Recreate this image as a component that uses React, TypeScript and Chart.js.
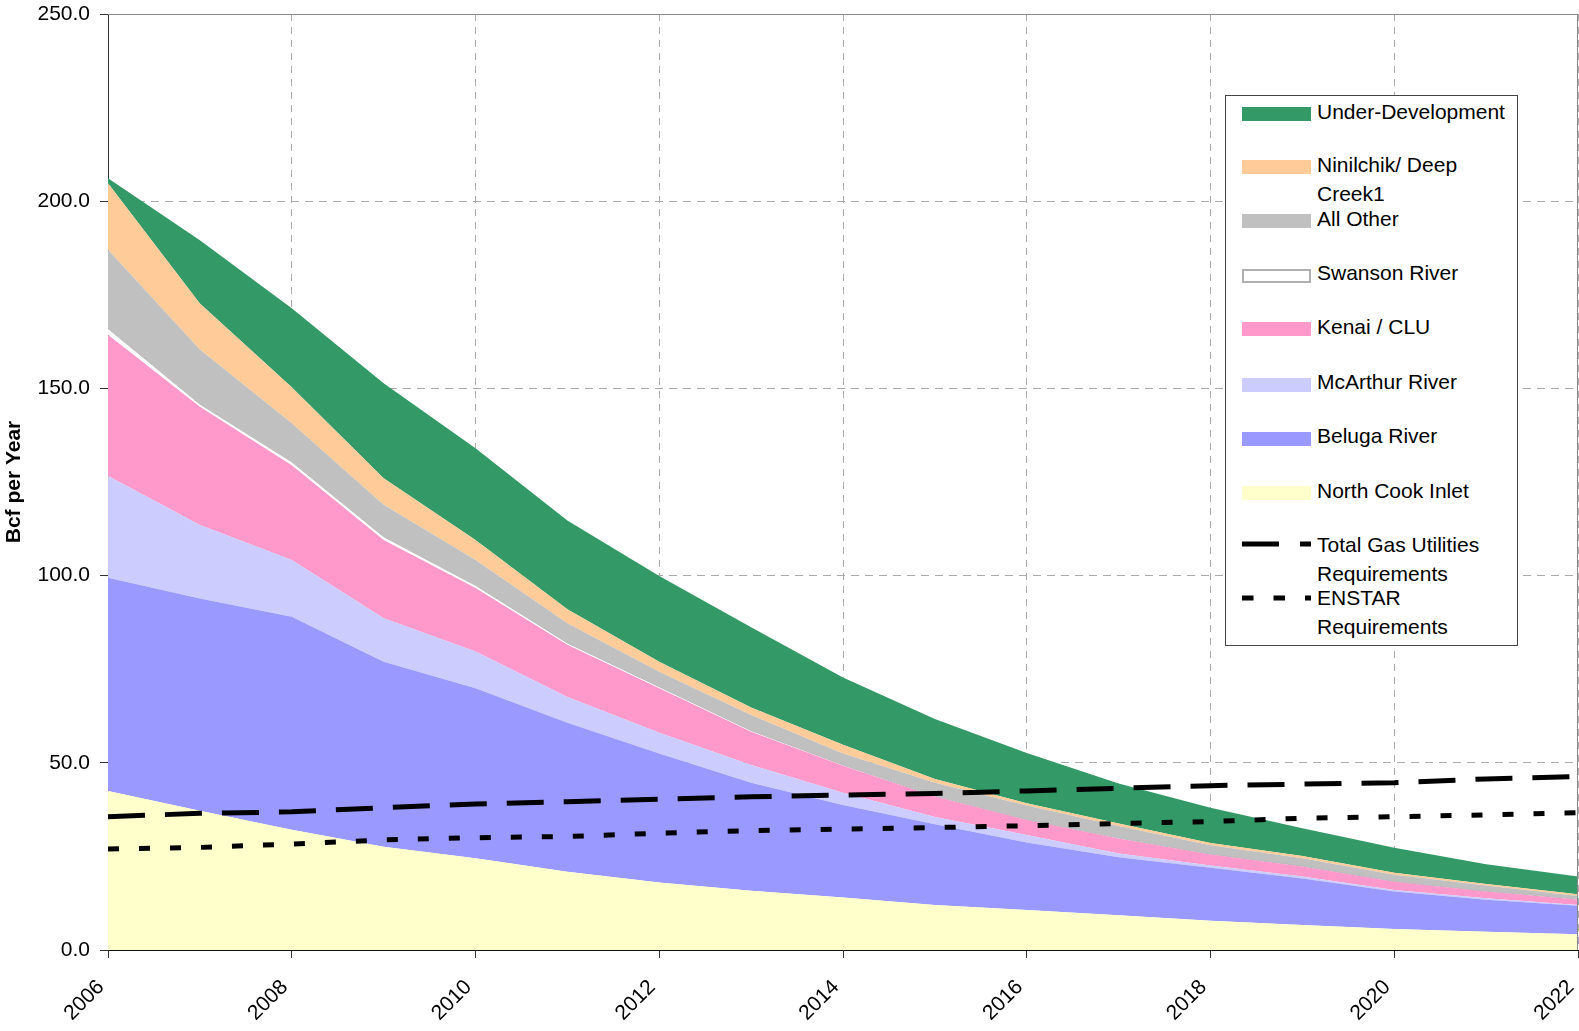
import React, { useEffect, useRef } from 'react';
import { Chart, registerables } from 'chart.js';

Chart.register(...registerables);

// ---- Data (Bcf per year) ----
const years = [2006, 2007, 2008, 2009, 2010, 2011, 2012, 2013, 2014, 2015, 2016, 2017, 2018, 2019, 2020, 2021, 2022];

const northCookInlet = [42.5, 37.2, 32.1, 27.6, 24.5, 20.9, 18.0, 15.8, 14.0, 12.0, 10.7, 9.3, 7.8, 6.7, 5.6, 4.9, 4.2];
const belugaRiver = [56.9, 56.7, 56.9, 49.4, 45.4, 39.8, 34.5, 28.9, 24.7, 21.6, 18.0, 15.5, 14.2, 12.4, 10.0, 8.5, 7.6];
const mcArthurRiver = [27.2, 19.6, 15.2, 11.6, 9.8, 6.9, 5.5, 4.7, 3.3, 1.9, 2.0, 1.0, 0.6, 0.5, 0.4, 0.4, 0.2];
const kenaiClu = [37.7, 31.6, 25.3, 20.9, 17.0, 13.9, 11.9, 8.9, 7.2, 5.5, 4.0, 4.0, 2.9, 2.7, 2.2, 1.8, 1.5];
const swansonRiver = [1.7, 0.7, 0.9, 0.9, 0.7, 0.5, 0.4, 0.3, 0.2, 0.1, 0.1, 0.1, 0.1, 0.1, 0.1, 0.1, 0.1];
const allOther = [21.0, 14.6, 10.3, 8.5, 6.8, 5.3, 4.0, 4.2, 3.1, 3.6, 3.8, 3.2, 2.4, 2.1, 1.8, 1.5, 0.8];
const ninilchikDeepCreek = [17.8, 12.3, 9.6, 7.1, 5.3, 3.7, 2.7, 2.0, 2.3, 1.0, 0.6, 0.7, 0.6, 0.6, 0.5, 0.4, 0.5];
const underDevelopment = [1.3, 16.9, 21.1, 25.4, 24.5, 23.7, 22.9, 21.4, 18.0, 16.0, 13.4, 10.7, 9.4, 7.4, 6.7, 5.3, 4.7];

const totalGasUtilities = [35.6, 36.5, 36.9, 38.0, 39.0, 39.6, 40.3, 40.9, 41.4, 41.8, 42.5, 43.2, 43.9, 44.3, 44.7, 45.7, 46.3];
const enstarRequirements = [27.0, 27.4, 28.3, 29.4, 30.0, 30.3, 31.2, 31.9, 32.3, 32.7, 33.2, 33.8, 34.3, 35.2, 35.6, 36.1, 36.7];

const yTicks = [0, 50, 100, 150, 200, 250];

const FONT = '"Liberation Sans", Arial, Helvetica, sans-serif';

type LegendItem = { label: string[]; color?: string; border?: string; dash?: string };

const legendItems: LegendItem[] = [
  { label: ['Under-Development'], color: '#339966' },
  { label: ['Ninilchik/ Deep', 'Creek1'], color: '#FFCC99' },
  { label: ['All Other'], color: '#C0C0C0' },
  { label: ['Swanson River'], color: '#FFFFFF', border: '#B0B0B0' },
  { label: ['Kenai / CLU'], color: '#FF99CC' },
  { label: ['McArthur River'], color: '#CCCCFF' },
  { label: ['Beluga River'], color: '#9999FF' },
  { label: ['North Cook Inlet'], color: '#FFFFCC' },
  { label: ['Total Gas Utilities', 'Requirements'], dash: '37 21' },
  { label: ['ENSTAR', 'Requirements'], dash: '11.5 20' },
];
const legendCenters = [15.4, 68, 122, 176.9, 230.2, 285.7, 339.8, 394.3, 448, 501.7];

export default function App() {
  const canvasRef = useRef<HTMLCanvasElement>(null);

  useEffect(() => {
    document.body.style.margin = '0';
    const canvas = canvasRef.current;
    if (!canvas) return;

    const pts = (arr: number[]) => years.map((yr, i) => ({ x: yr, y: arr[i] }));
    const area = (label: string, data: number[], color: string, first = false, borderColor?: string) => ({
      label,
      data: pts(data),
      backgroundColor: color,
      borderColor: borderColor || color,
      borderWidth: borderColor ? 1 : 0,
      pointRadius: 0,
      fill: first ? 'origin' : '-1',
      stack: 'supply',
      order: 2,
      tension: 0,
    });
    const line = (label: string, data: number[], dash: number[], stack: string) => ({
      label,
      data: pts(data),
      borderColor: '#000000',
      backgroundColor: '#000000',
      borderWidth: 5,
      borderDash: dash,
      borderCapStyle: 'butt',
      pointRadius: 0,
      fill: false,
      stack,
      order: 0,
      tension: 0,
    });

    const borderPlugin = {
      id: 'plotBorder',
      afterDraw(chart: any) {
        const { ctx, chartArea } = chart;
        ctx.save();
        ctx.strokeStyle = '#888888';
        ctx.lineWidth = 1;
        ctx.beginPath();
        ctx.moveTo(chartArea.left, chartArea.top + 0.5);
        ctx.lineTo(chartArea.right, chartArea.top + 0.5);
        ctx.moveTo(chartArea.right - 0.5, chartArea.top);
        ctx.lineTo(chartArea.right - 0.5, chartArea.bottom);
        ctx.stroke();
        ctx.restore();
      },
    };

    const chart = new Chart(canvas, {
      type: 'line',
      data: {
        datasets: [
          area('North Cook Inlet', northCookInlet, '#FFFFCC', true),
          area('Beluga River', belugaRiver, '#9999FF'),
          area('McArthur River', mcArthurRiver, '#CCCCFF'),
          area('Kenai / CLU', kenaiClu, '#FF99CC'),
          area('Swanson River', swansonRiver, '#FFFFFF', false, '#B8B8B8'),
          area('All Other', allOther, '#C0C0C0'),
          area('Ninilchik/ Deep Creek1', ninilchikDeepCreek, '#FFCC99'),
          area('Under-Development', underDevelopment, '#339966'),
          line('Total Gas Utilities Requirements', totalGasUtilities, [37, 20], 'req1'),
          line('ENSTAR Requirements', enstarRequirements, [11, 20], 'req2'),
        ] as any,
      },
      options: {
        responsive: false,
        animation: false,
        events: [],
        layout: { padding: { top: 14, right: 1, left: 0, bottom: 0 } },
        plugins: {
          legend: { display: false },
          tooltip: { enabled: false },
        },
        scales: {
          x: {
            type: 'linear',
            min: 2006,
            max: 2022,
            afterFit: (s: any) => {
              s.height = 81;
              s.paddingLeft = 0;
              s.paddingRight = 0;
            },
            ticks: {
              stepSize: 2,
              minRotation: 45,
              maxRotation: 45,
              padding: 17,
              labelOffset: -7,
              color: '#000000',
              font: { family: FONT, size: 21 },
              callback: (v: any) => String(v),
            },
            grid: {
              color: '#ABABAB',
              lineWidth: 1,
              tickColor: '#333333',
              tickLength: 8,
            },
            border: { display: true, color: '#111111', width: 1, dash: [7, 6] },
          },
          y: {
            stacked: true,
            min: 0,
            max: 250,
            afterFit: (s: any) => {
              s.width = 108;
              s.paddingTop = 0;
              s.paddingBottom = 0;
            },
            afterBuildTicks: (s: any) => {
              s.ticks = yTicks.map((v) => ({ value: v }));
            },
            ticks: {
              padding: 10,
              color: '#000000',
              font: { family: FONT, size: 21 },
              callback: (v: any) => Number(v).toFixed(1),
            },
            grid: {
              color: '#ABABAB',
              lineWidth: 1,
              tickColor: '#333333',
              tickLength: 8,
            },
            border: { display: true, color: '#333333', width: 1, dash: [8, 6] },
            title: {
              display: true,
              text: 'Bcf per Year',
              color: '#000000',
              font: { family: FONT, size: 21, weight: 'bold' },
              padding: { top: 2, bottom: 0 },
            },
          },
        },
      } as any,
      plugins: [borderPlugin],
    });

    return () => chart.destroy();
  }, []);

  return (
    <div style={{ position: 'fixed', left: 0, top: 0, width: 1579, height: 1031, background: '#ffffff' }}>
      <canvas ref={canvasRef} width={1579} height={1031} style={{ display: 'block', width: 1579, height: 1031 }} />
      <div
        style={{
          position: 'absolute',
          left: 1225,
          top: 95,
          width: 293,
          height: 551,
          boxSizing: 'border-box',
          border: '1px solid #444444',
          background: '#ffffff',
          fontFamily: FONT,
          fontSize: 21,
          color: '#000000',
        }}
      >
        {legendItems.map((item, i) => {
          const c = legendCenters[i];
          return (
            <React.Fragment key={i}>
              {item.dash ? (
                <svg
                  style={{ position: 'absolute', left: 16, top: c - 5, width: 70, height: 10 }}
                  width={70}
                  height={10}
                >
                  <line x1={0} y1={5} x2={69} y2={5} stroke="#000000" strokeWidth={5} strokeDasharray={item.dash} />
                </svg>
              ) : (
                <div
                  style={{
                    position: 'absolute',
                    left: 16,
                    top: c - 4,
                    width: 69,
                    height: 14,
                    boxSizing: 'border-box',
                    background: item.color,
                    border: item.border ? `2px solid ${item.border}` : 'none',
                  }}
                />
              )}
              <div
                style={{
                  position: 'absolute',
                  left: 91,
                  top: c - 14.5,
                  lineHeight: '29px',
                  whiteSpace: 'nowrap',
                }}
              >
                {item.label.map((t, j) => (
                  <div key={j}>{t}</div>
                ))}
              </div>
            </React.Fragment>
          );
        })}
      </div>
    </div>
  );
}
